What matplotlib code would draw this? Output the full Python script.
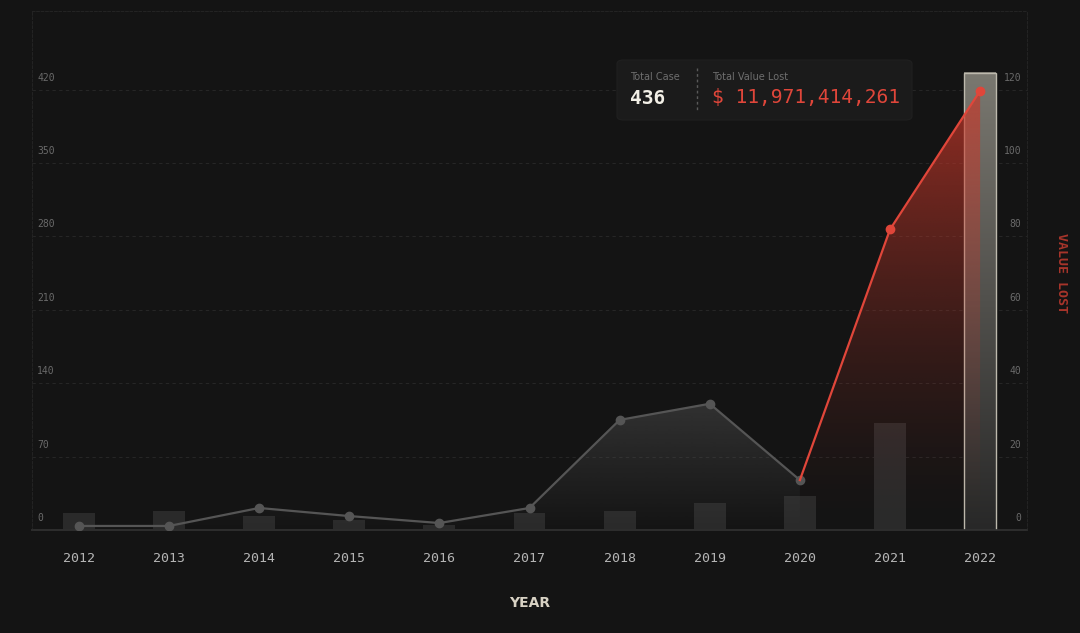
import matplotlib as mpl
mpl.use('Agg')
import matplotlib.pyplot as plt
import numpy as np
from matplotlib.patches import Polygon, Rectangle, FancyBboxPatch
from matplotlib.lines import Line2D
from matplotlib.colors import to_rgb

# data
years       = ["2012", "2013", "2014", "2015", "2016", "2017",
               "2018", "2019", "2020", "2021", "2022"]
cases       = [16, 18, 13, 10, 5, 16, 18, 26, 32, 102, 436]
value_lost  = [1.1, 1.1, 6.0, 3.8, 1.9, 6.0, 30.0, 34.4, 13.6, 81.9, 119.7]  # 100M USD
left_ticks  = [0, 70, 140, 210, 280, 350, 420]
right_ticks = [0, 20, 40, 60, 80, 100, 120]
hover_idx   = 10        # highlighted year
red_from    = 8         # line turns red from this year on
total_case  = "436"
total_value = "$ 11,971,414,261"

BG       = "#141414"
GRID     = "#262626"
BAR      = "#2a2a2a"
GRAY     = "#555555"
RED      = "#e0463a"
TICK_CLR = "#6a6a6a"
MONO     = "DejaVu Sans Mono"

LEFT_MAX  = 495
RIGHT_MAX = LEFT_MAX / 3.5


def gradient_fill(ax, xs, ys, color, alpha_top, ymax, zorder, power=1.0):
    verts = [(xs[0], 0)] + list(zip(xs, ys)) + [(xs[-1], 0)]
    poly = Polygon(verts, closed=True, fc='none', ec='none')
    ax.add_patch(poly)
    grad = np.zeros((256, 1, 4))
    grad[:, 0, :3] = to_rgb(color)
    grad[:, 0, 3] = alpha_top * np.linspace(1, 0, 256) ** power
    im = ax.imshow(grad, extent=[xs[0], xs[-1], 0, ymax], aspect='auto',
                   origin='upper', zorder=zorder, interpolation='bilinear')
    im.set_clip_path(poly)


fig = plt.figure(figsize=(10.8, 6.33), dpi=100, facecolor=BG)
ax = fig.add_axes([32/1080, 1 - 530/633, 995/1080, 519/633])
ax.set_facecolor(BG)
ax2 = ax.twinx()

x = np.arange(len(years))
bar_w = 0.355

# bars (cases)
ax.bar(x, cases, width=bar_w, color=BAR, zorder=2)

# highlighted bar with vertical gradient
top_c = np.array([122, 120, 112]) / 255
bot_c = np.array([40, 40, 40]) / 255
hl = np.zeros((256, 1, 3))
for i in range(3):
    hl[:, 0, i] = np.linspace(top_c[i], bot_c[i], 256)
ax.imshow(hl, extent=[hover_idx - bar_w/2, hover_idx + bar_w/2, 0, cases[hover_idx]],
          aspect='auto', origin='upper', zorder=3, interpolation='bilinear')
ax.add_patch(Rectangle((hover_idx - bar_w/2, 0), bar_w, cases[hover_idx],
                       fc='none', ec="#bdb9ad", lw=1.0, zorder=4))

ax.set_xlim(-0.52, len(years) - 0.48)
ax.set_ylim(0, LEFT_MAX)
ax2.set_ylim(0, RIGHT_MAX)

# grid
ax.set_yticks(left_ticks)
ax.grid(axis='y', color=GRID, linestyle=(0, (3, 3)), linewidth=0.8, zorder=0)
ax.tick_params(axis='y', length=0, labelleft=False)
ax2.set_yticks(right_ticks)
ax2.tick_params(axis='y', length=0, labelright=False)

for t in left_ticks:
    ax.annotate(str(t), xy=(0, t), xycoords=('axes fraction', 'data'),
                xytext=(5, 12), textcoords='offset pixels', ha='left', va='center',
                fontsize=7, color=TICK_CLR, family=MONO)
for t in right_ticks:
    ax2.annotate(str(t), xy=(1, t), xycoords=('axes fraction', 'data'),
                 xytext=(-6, 12), textcoords='offset pixels', ha='right', va='center',
                 fontsize=7, color=TICK_CLR, family=MONO)

# value lost line: gray part then red part
gx, gy = x[:red_from + 1], value_lost[:red_from + 1]
rx, ry = x[red_from:], value_lost[red_from:]
gradient_fill(ax2, gx, gy, "#5a5a5a", 0.42, max(gy), zorder=1)
gradient_fill(ax2, rx, ry, "#c8382a", 0.72, max(ry), zorder=2, power=1.5)
ax2.plot(gx, gy, color=GRAY, lw=1.6, marker='o', ms=6, zorder=5)
ax2.plot(rx, ry, color=RED, lw=1.6, zorder=5)
ax2.plot(rx[1:], ry[1:], color=RED, lw=0, marker='o', ms=6, zorder=6)

# x axis
ax.set_xticks(x, years)
ax.tick_params(axis='x', length=0, pad=16, labelsize=9.5, labelcolor="#b5b5b5")
for lab in ax.get_xticklabels():
    lab.set_family(MONO)
ax.set_xlabel("YEAR", fontsize=10, fontweight='bold', color="#d8d2c4", labelpad=22)

for a in (ax, ax2):
    for side in ("left", "right", "top"):
        a.spines[side].set_color("#232323")
        a.spines[side].set_linestyle((0, (2, 2)))
        a.spines[side].set_linewidth(0.8)
    a.spines["bottom"].set_color("#2e2e2e")
    a.spines["bottom"].set_linewidth(1.2)

fig.text(1062/1080, 1 - 273/633, "VALUE LOST", rotation=270, ha='center', va='center',
         fontsize=9.5, fontweight='bold', color="#a8352b", family=MONO)

# tooltip box
box = FancyBboxPatch((617/1080, 1 - 120/633), 295/1080, 60/633,
                     boxstyle="round,pad=0,rounding_size=0.006",
                     transform=fig.transFigure, fc="#1b1b1b", ec="#202020", lw=0.8,
                     zorder=10)
fig.patches.append(box)
fig.text(630/1080, 1 - 77/633, "Total Case", fontsize=7, color="#6e6e6e",
         va='center', ha='left', zorder=11)
fig.text(630/1080, 1 - 98/633, total_case, fontsize=14, color="#f2efe6",
         va='center', ha='left', family=MONO, fontweight='bold', zorder=11)
fig.lines.append(Line2D([697/1080, 697/1080], [1 - 68/633, 1 - 110/633],
                        transform=fig.transFigure, color="#5a5a5a", lw=1,
                        linestyle=(0, (2, 2)), zorder=11))
fig.text(712/1080, 1 - 77/633, "Total Value Lost", fontsize=7, color="#6e6e6e",
         va='center', ha='left', zorder=11)
fig.text(712/1080, 1 - 98/633, total_value, fontsize=14, color=RED,
         va='center', ha='left', family=MONO, zorder=11)

fig.savefig("out.png", dpi=100, facecolor=BG)
